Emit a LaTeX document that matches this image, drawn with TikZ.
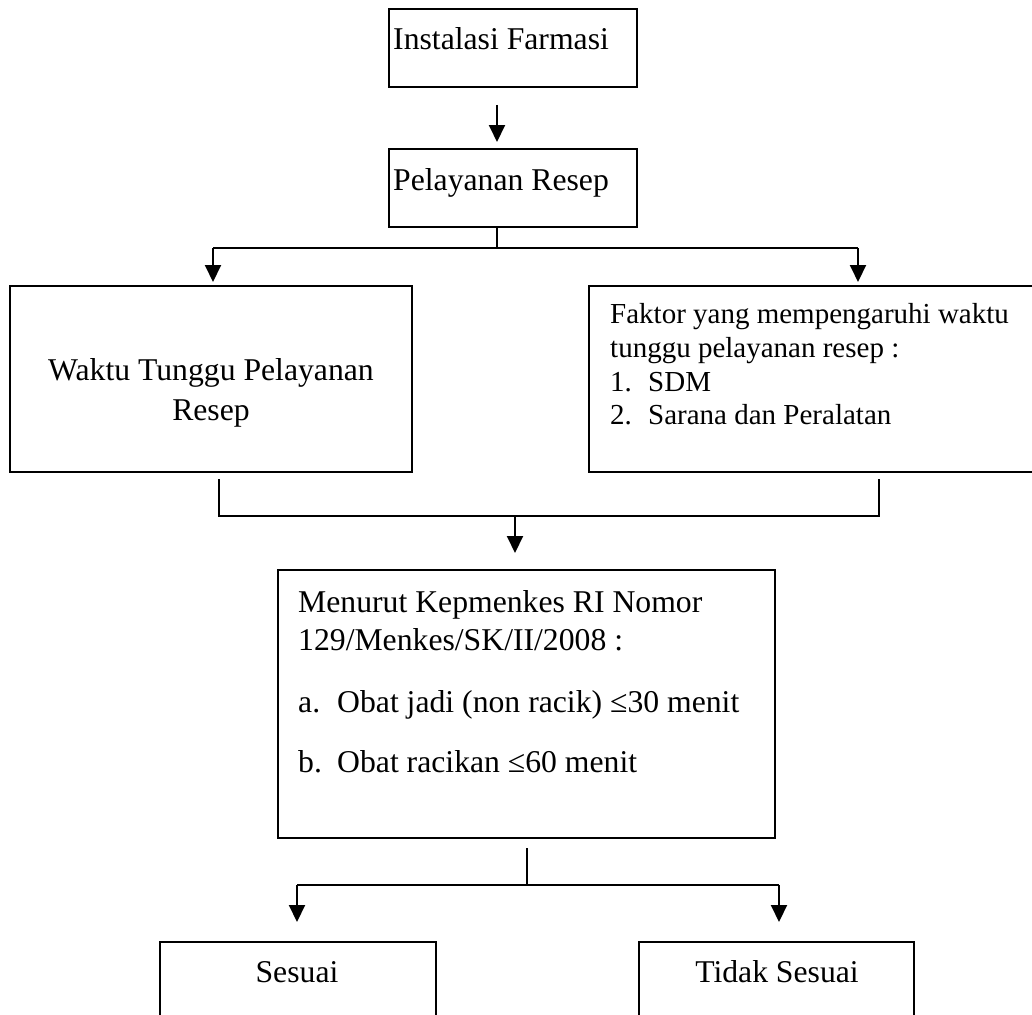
\documentclass[tikz,border=0pt]{standalone}
\usepackage{fontspec}
\setmainfont{Liberation Serif}
\usetikzlibrary{arrows.meta,calc}
\begin{document}
\begin{tikzpicture}[x=1pt,y=-1pt,
  box/.style={draw,line width=2pt,inner sep=0pt,rectangle},
  txt/.style={inner sep=0pt,anchor=base west,font=\fontsize{31.7}{38}\selectfont},
  ctxt/.style={inner sep=0pt,anchor=base,font=\fontsize{31.7}{38}\selectfont},
  stxt/.style={inner sep=0pt,anchor=base west,font=\fontsize{29}{34}\selectfont},
  conn/.style={line width=2pt},
  arr/.style={line width=2pt,-{Triangle[length=17pt,width=16pt]}}]
\useasboundingbox (0,0) rectangle (1032,1014);
\clip (0,0) rectangle (1032,1014);
\fill[white] (0,0) rectangle (1032,1014);

% boxes
\node[box,minimum width=248pt,minimum height=78pt] (b1) at (513,48) {};
\node[box,minimum width=248pt,minimum height=78pt] (b2) at (513,188) {};
\node[box,minimum width=402pt,minimum height=186pt] (b3) at (211,379) {};
\node[box,minimum width=451pt,minimum height=186pt] (b4) at (814.5,379) {};
\node[box,minimum width=497pt,minimum height=268pt] (b5) at (526.5,704) {};
\node[box,minimum width=276pt,minimum height=88pt] (b6) at (298,986) {};
\node[box,minimum width=275pt,minimum height=88pt] (b7) at (776.5,986) {};

% texts
\node[txt] (t1) at (393,50) {Instalasi Farmasi};
\node[txt] (t2) at (393,190) {Pelayanan Resep};
\node[ctxt] (t3a) at (211,380) {Waktu Tunggu Pelayanan};
\node[ctxt] (t3b) at (211,420) {Resep};
\node[stxt] (t4a) at (610,323) {Faktor yang mempengaruhi waktu};
\node[stxt] (t4b) at (610,357) {tunggu pelayanan resep :};
\node[stxt] (t4c) at (610,391) {\makebox[38pt][l]{1.}SDM};
\node[stxt] (t4d) at (610,424) {\makebox[38pt][l]{2.}Sarana dan Peralatan};
\node[txt] (t5a) at (298,612) {Menurut Kepmenkes RI Nomor};
\node[txt] (t5b) at (298,650) {129/Menkes/SK/II/2008 :};
\node[txt] (t5c) at (298,712) {\makebox[39pt][l]{a.}Obat jadi (non racik) ≤30 menit};
\node[txt] (t5d) at (298,772) {\makebox[39pt][l]{b.}Obat racikan ≤60 menit};
\node[ctxt] (t6) at (297,982) {Sesuai};
\node[ctxt] (t7) at (777,982) {Tidak Sesuai};

% connector points
\coordinate (a1s) at (497,105);
\coordinate (a1e) at (497,142);
\coordinate (s2) at (497,248);
\coordinate (l2) at (213,248);
\coordinate (r2) at (858,248);
\coordinate (l2e) at (213,282);
\coordinate (r2e) at (858,282);
\coordinate (l3) at (219,479);
\coordinate (r3) at (879,479);
\coordinate (m3) at (515,516);
\coordinate (m3e) at (515,553);
\coordinate (s5) at (527,848);
\coordinate (j5) at (527,885);
\coordinate (l5) at (297,885);
\coordinate (r5) at (779,885);
\coordinate (l5e) at (297,922);
\coordinate (r5e) at (779,922);

% connectors
\draw[arr] (a1s) -- (a1e);
\draw[conn] (b2.south -| s2) -- (s2);
\draw[conn] (l2) -- (r2);
\draw[arr] (l2) -- (l2e);
\draw[arr] (r2) -- (r2e);
\draw[conn] (l3) -- (l3 |- m3) -- (r3 |- m3) -- (r3);
\draw[arr] (m3) -- (m3e);
\draw[conn] (s5) -- (j5);
\draw[conn] (l5) -- (r5);
\draw[arr] (l5) -- (l5e);
\draw[arr] (r5) -- (r5e);
\end{tikzpicture}
\end{document}
